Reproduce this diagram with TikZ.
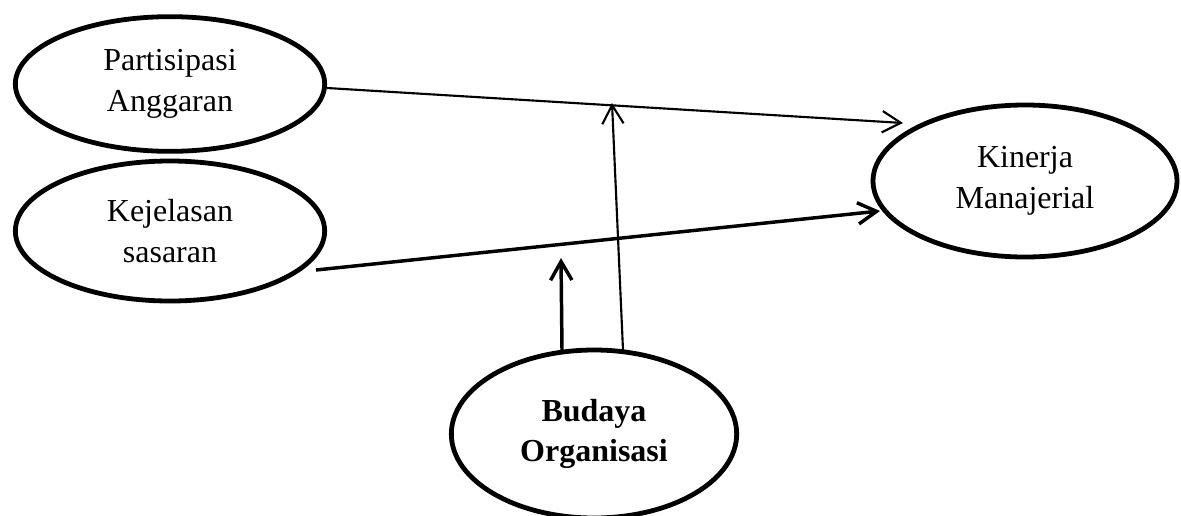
\documentclass[tikz,border=0pt]{standalone}
\usepackage{fontspec}
\setmainfont{Liberation Serif}
\usetikzlibrary{arrows.meta,shapes.geometric}
\begin{document}
\begin{tikzpicture}[x=0.75pt,y=-0.75pt,
  var/.style={draw,ellipse,line width=3.6pt,inner sep=0pt,align=center,
    font=\fontsize{24}{30.5}\selectfont},
  arrtip/.style={-{Straight Barb[length=14pt,width=16pt]}},
  thinarr/.style={line width=1.6pt,arrtip},
  thickarr/.style={line width=2.6pt,arrtip}]
\useasboundingbox (0,0) rectangle (1181,515);
\clip (0,0) rectangle (1181,515);
\node[var,minimum width=232pt,minimum height=101pt] (pa) at (170,84) {Partisipasi\\Anggaran};
\node[var,minimum width=232pt,minimum height=105pt] (ks) at (170,231) {Kejelasan\\sasaran};
\node[var,minimum width=228pt,minimum height=114pt] (km) at (1025,181) {Kinerja\\Manajerial};
\node[var,minimum width=214pt,minimum height=126pt,font=\fontsize{24}{30.5}\selectfont\bfseries] (bo) at (594,434) {Budaya\\Organisasi};
\coordinate (t1) at (903,123);
\coordinate (t2) at (880,211);
\coordinate (t3) at (612,103);
\coordinate (t4) at (561,258);
\coordinate (s1) at (327,88);
\coordinate (s2) at (316,270);
\coordinate (s3) at (623,350);
\coordinate (s4) at (562,350);
\draw[thinarr] (s1) -- (t1);
\draw[thickarr] (s2) -- (t2);
\draw[thinarr] (s3) -- (t3);
\draw[thickarr] (s4) -- (t4);
\end{tikzpicture}
\end{document}
